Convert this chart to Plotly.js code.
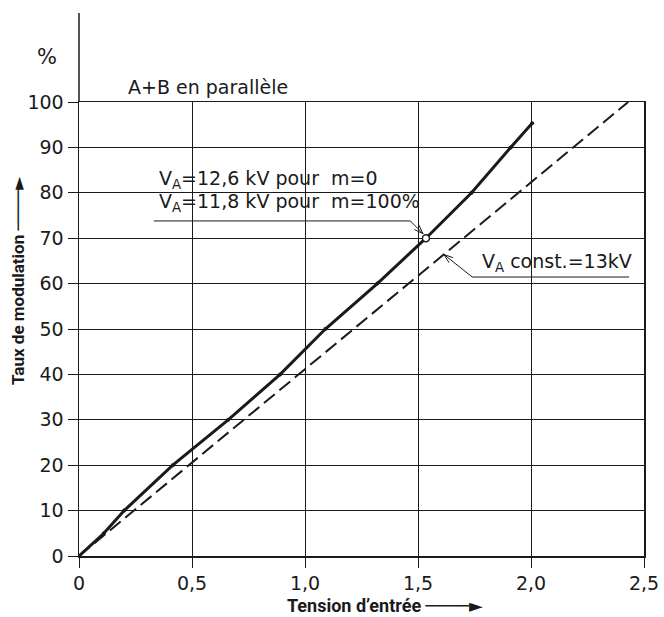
<!DOCTYPE html>
<html>
<head>
<meta charset="utf-8">
<script src="https://cdn.plot.ly/plotly-3.0.1.min.js"></script>
<style>html,body{margin:0;padding:0;background:#fff;}#chart{width:664px;height:617px;}</style>
</head>
<body>
<div id="chart"></div>
<script>
// Measured curve: A+B en parallèle, V_A = 12,6 kV (m=0) / 11,8 kV (m=100%)
const tensionMesure = [0, 0.11, 0.2, 0.415, 0.66, 0.89, 1.09, 1.32, 1.535, 1.737, 1.91, 2.005];
const tauxMesure    = [0, 5, 10, 20, 30, 40, 50, 60, 70, 80, 90, 95.3];
// Reference line: V_A const. = 13 kV
const tensionConst = [0, 2.43];
const tauxConst    = [0, 100];
// Tick labels
const xTickVals = [0, 0.5, 1.0, 1.5, 2.0, 2.5];
const xTickText = ['0', '0,5', '1,0', '1,5', '2,0', '2,5'];
const yTickVals = [0, 10, 20, 30, 40, 50, 60, 70, 80, 90, 100];

const FONT = 'DejaVu Sans, Liberation Sans, sans-serif';
const TFONT = 'Roboto, DejaVu Sans, sans-serif';
const INK = '#1a1a1a';

const W = 664, H = 617, ML = 79, MR = 20, MT = 102, MB = 61;
const XR = [0, 2.5], YR = [0, 100];
const pxPerX = (W - ML - MR) / (XR[1] - XR[0]);
const pxPerY = (H - MT - MB) / (YR[1] - YR[0]);

// leader line ending in a small open arrowhead (built in pixel space, returned in data units)
function leader(x0, y0, x1, y1) {
  const dx = (x1 - x0) * pxPerX, dy = (y1 - y0) * pxPerY;
  const len = Math.hypot(dx, dy), ux = dx / len, uy = dy / len;
  const L = 9, Wd = 3.2;
  const bx = x1 - ux * L / pxPerX, by = y1 - uy * L / pxPerY;
  const px = -uy * Wd, py = ux * Wd;
  const a1x = bx + px / pxPerX, a1y = by + py / pxPerY;
  const a2x = bx - px / pxPerX, a2y = by - py / pxPerY;
  return [
    {type: 'line', xref: 'x', yref: 'y', x0: x0, y0: y0, x1: x1, y1: y1, line: {color: INK, width: 1}},
    {type: 'path', xref: 'x', yref: 'y',
     path: `M${a1x},${a1y} L${x1},${y1} L${a2x},${a2y}`, line: {color: INK, width: 1}}
  ];
}

const traces = [
  {
    x: tensionConst, y: tauxConst, type: 'scatter', mode: 'lines',
    line: {color: INK, width: 2, dash: '14px,6px'}, hoverinfo: 'skip'
  },
  {
    x: tensionMesure, y: tauxMesure, type: 'scatter', mode: 'lines+markers',
    line: {color: INK, width: 3},
    marker: {size: 4, color: INK}, hoverinfo: 'skip'
  },
  {
    x: [tensionMesure[8]], y: [tauxMesure[8]], type: 'scatter', mode: 'markers',
    marker: {size: 7, color: '#ffffff', line: {color: INK, width: 1.5}}, hoverinfo: 'skip'
  }
];

const layout = {
  width: W, height: H,
  margin: {l: ML, r: MR, t: MT, b: MB},
  paper_bgcolor: '#ffffff', plot_bgcolor: '#ffffff',
  showlegend: false,
  font: {family: FONT, color: INK},
  xaxis: {
    range: XR, tickvals: xTickVals, ticktext: xTickText,
    ticks: 'outside', ticklen: 10, tickcolor: INK, tickwidth: 1,
    showgrid: true, gridcolor: INK, gridwidth: 1,
    showline: true, linecolor: INK, linewidth: 1.5, mirror: true,
    zeroline: false,
    tickfont: {family: FONT, size: 19, color: INK}
  },
  yaxis: {
    range: YR, tickvals: yTickVals,
    ticks: 'outside', ticklen: 10, tickcolor: INK, tickwidth: 1,
    showgrid: true, gridcolor: INK, gridwidth: 1,
    showline: true, linecolor: INK, linewidth: 1.5, mirror: true,
    zeroline: false,
    tickfont: {family: FONT, size: 19, color: INK}
  },
  shapes: [
    {type: 'line', xref: 'paper', yref: 'paper', x0: 0, x1: 0, y0: 1, y1: 1.196,
     line: {color: INK, width: 1.5}},
    {type: 'line', xref: 'x', yref: 'y', x0: 0.331, x1: 1.466, y0: 73.8, y1: 73.8,
     line: {color: INK, width: 1}},
    {type: 'line', xref: 'x', yref: 'y', x0: 1.74, x1: 2.434, y0: 61.45, y1: 61.45,
     line: {color: INK, width: 1}}
  ].concat(leader(1.466, 73.8, 1.522, 71.0), leader(1.74, 61.45, 1.615, 66.4)),
  annotations: [
    {xref: 'paper', yref: 'paper', x: -0.057, y: 1.099, xanchor: 'center', yanchor: 'middle',
     text: '%', showarrow: false, font: {family: FONT, size: 21, color: INK}},
    {xref: 'paper', yref: 'paper', x: 0.083, y: 1.033, xanchor: 'left', yanchor: 'middle',
     text: 'A+B en parallèle', showarrow: false, font: {family: FONT, size: 19, color: INK}},
    {xref: 'paper', yref: 'paper', x: -0.108, y: 0.608, xanchor: 'center', yanchor: 'middle',
     textangle: -90, text: '<b>Taux de modulation</b> ────►', showarrow: false,
     font: {family: TFONT, size: 17, color: INK}},
    {xref: 'paper', yref: 'paper', x: 0.542, y: -0.108, xanchor: 'center', yanchor: 'middle',
     text: '<b>Tension d’entrée</b> ────►', showarrow: false,
     font: {family: TFONT, size: 18, color: INK}},
    {xref: 'x', yref: 'y', x: 0.345, y: 82.9, xanchor: 'left', yanchor: 'middle',
     text: 'V<sub>A</sub>=12,6 kV pour  m=0', showarrow: false,
     font: {family: FONT, size: 19, color: INK}},
    {xref: 'x', yref: 'y', x: 0.345, y: 77.8, xanchor: 'left', yanchor: 'middle',
     text: 'V<sub>A</sub>=11,8 kV pour  m=100%', showarrow: false,
     font: {family: FONT, size: 19, color: INK}},
    {xref: 'x', yref: 'y', x: 1.776, y: 64.6, xanchor: 'left', yanchor: 'middle',
     text: 'V<sub>A</sub> const.=13kV', showarrow: false,
     font: {family: FONT, size: 19, color: INK}}
  ]
};

Plotly.newPlot('chart', traces, layout, {staticPlot: true, displayModeBar: false});
</script>
</body>
</html>
